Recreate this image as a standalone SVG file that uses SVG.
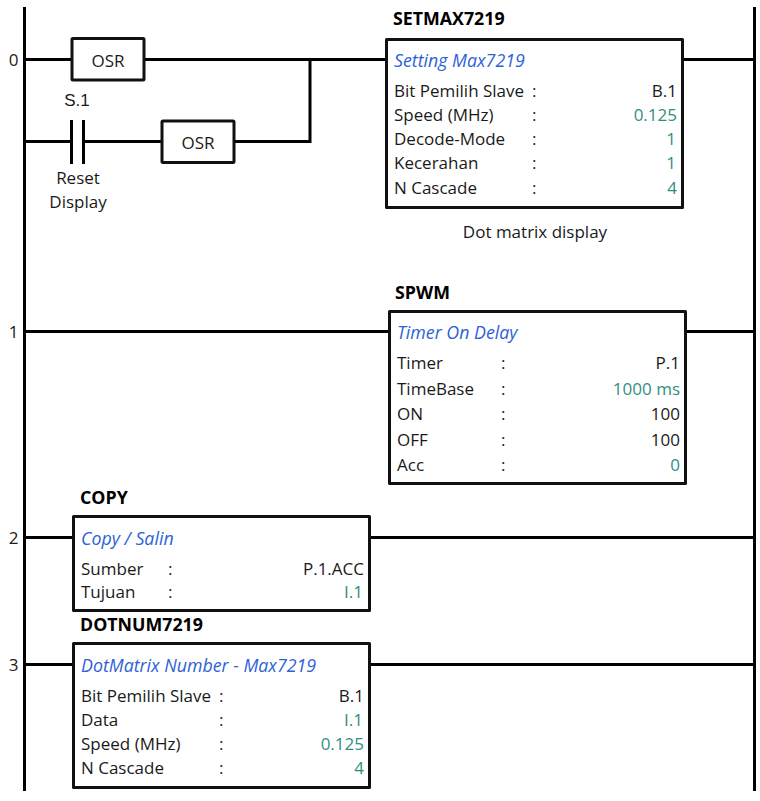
<svg xmlns="http://www.w3.org/2000/svg" width="760" height="801" viewBox="0 0 760 801">
<style>
text{font-family:"Open Sans","Noto Sans","Liberation Sans",sans-serif;font-size:17px;fill:#1a1a1a}
.w{fill:none;stroke:#000;stroke-width:3}
.rail{fill:none;stroke:#000;stroke-width:3}
.box{fill:#fff;stroke:#111;stroke-width:3;stroke-linejoin:round}
.t{font-weight:700;fill:#000;font-size:17.800px}
.h{font-style:italic;fill:#2d62d6;font-size:17.800px}
.v{text-anchor:end}
.g{text-anchor:end;fill:#2f9080}
.c{text-anchor:middle}
.s{font-family:"Liberation Sans",sans-serif;font-size:17px}
</style>
<g id="connectors">
<path class="rail" d="M24.500 7V791M754.500 7V791"/>
<path class="w" d="M26 59.500H72M144 59.500H386M683 59.500H753M26 141.500H71M84 141.500H162M234 141.500H310V59.500"/>
<path class="w" d="M26 331.500H389M686 331.500H753M26 537.500H73M370 537.500H753M26 664.500H73M370 664.500H753"/>
<path class="w" d="M71.500 120V164M83.500 120V164"/>
</g>
<g id="rung-numbers">
<text x="13.500" y="66" class="c">0</text>
<text x="13.500" y="338" class="c">1</text>
<text x="13.500" y="544" class="c">2</text>
<text x="13.500" y="671" class="c">3</text>
</g>
<g id="osr1"><rect class="box" x="72" y="38.500" width="72" height="41.500" rx="1"/><text x="108" y="67" class="c">OSR</text></g>
<g id="contact-s1"><text x="77" y="106" class="c s">S.1</text><text x="78" y="184" class="c">Reset</text><text x="78" y="208" class="c">Display</text></g>
<g id="osr2"><rect class="box" x="162" y="121" width="72" height="41.500" rx="1"/><text x="198" y="149" class="c">OSR</text></g>
<g id="setmax7219">
<text x="393" y="25" class="t">SETMAX7219</text>
<rect class="box" x="386.500" y="39.500" width="296" height="168"/>
<text x="394" y="67" class="h">Setting Max7219</text>
<text x="394" y="97">Bit Pemilih Slave</text><text x="532" y="97">:</text><text x="677" y="97" class="v">B.1</text>
<text x="394" y="121">Speed (MHz)</text><text x="532" y="121">:</text><text x="677" y="121" class="g">0.125</text>
<text x="394" y="145">Decode-Mode</text><text x="532" y="145">:</text><text x="676" y="145" class="g">1</text>
<text x="394" y="169">Kecerahan</text><text x="532" y="169">:</text><text x="676" y="169" class="g">1</text>
<text x="394" y="194">N Cascade</text><text x="532" y="194">:</text><text x="677" y="194" class="g">4</text>
<text x="535" y="238" class="c">Dot matrix display</text>
</g>
<g id="spwm">
<text x="395" y="299" class="t">SPWM</text>
<rect class="box" x="389.500" y="311.500" width="296" height="172"/>
<text x="397" y="339" class="h">Timer On Delay</text>
<text x="397" y="369">Timer</text><text x="501" y="369">:</text><text x="680" y="369" class="v">P.1</text>
<text x="397" y="395">TimeBase</text><text x="501" y="395">:</text><text x="680" y="395" class="g">1000 ms</text>
<text x="397" y="420">ON</text><text x="501" y="420">:</text><text x="680" y="420" class="v">100</text>
<text x="397" y="446">OFF</text><text x="501" y="446">:</text><text x="680" y="446" class="v">100</text>
<text x="397" y="471">Acc</text><text x="501" y="471">:</text><text x="680" y="471" class="g">0</text>
</g>
<g id="copy">
<text x="80" y="504" class="t">COPY</text>
<rect class="box" x="73.500" y="516.500" width="296" height="94"/>
<text x="81" y="545" class="h">Copy / Salin</text>
<text x="81" y="575">Sumber</text><text x="168" y="575">:</text><text x="364" y="575" class="v">P.1.ACC</text>
<text x="81" y="598">Tujuan</text><text x="168" y="598">:</text><text x="363" y="598" class="g">I.1</text>
</g>
<g id="dotnum7219">
<text x="80" y="631" class="t">DOTNUM7219</text>
<rect class="box" x="73.500" y="643.500" width="296" height="144"/>
<text x="81" y="672" class="h">DotMatrix Number - Max7219</text>
<text x="81" y="702">Bit Pemilih Slave</text><text x="219" y="702">:</text><text x="364" y="702" class="v">B.1</text>
<text x="81" y="726">Data</text><text x="219" y="726">:</text><text x="363" y="726" class="g">I.1</text>
<text x="81" y="750">Speed (MHz)</text><text x="219" y="750">:</text><text x="364" y="750" class="g">0.125</text>
<text x="81" y="774">N Cascade</text><text x="219" y="774">:</text><text x="364" y="774" class="g">4</text>
</g>
</svg>
